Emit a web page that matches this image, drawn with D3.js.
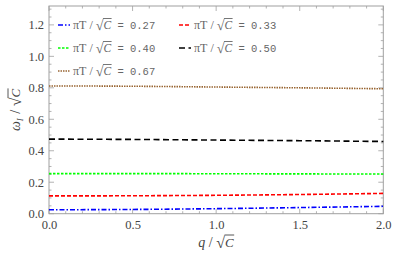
<!DOCTYPE html>
<html><head><meta charset="utf-8">
<script src="https://cdn.jsdelivr.net/npm/d3@7"></script>
<style>body{margin:0;background:#fff}svg{display:block}</style>
</head><body><svg id="c" width="398" height="264"></svg>
<script>
const qValues = [0, 0.5, 1.0, 1.5, 2.0];
const seriesLabels = ["0.27", "0.33", "0.40", "0.50", "0.67"];
const blueVals  = [0.025, 0.027, 0.032, 0.039, 0.047];
const redVals   = [0.113, 0.114, 0.117, 0.122, 0.129];
const greenVals = [0.255, 0.255, 0.254, 0.253, 0.252];
const blackVals = [0.474, 0.472, 0.468, 0.464, 0.459];
const brownVals = [0.812, 0.810, 0.805, 0.800, 0.794];
const xTicks = [0, 0.5, 1.0, 1.5, 2.0];
const yTicks = [0, 0.2, 0.4, 0.6, 0.8, 1.0, 1.2];

const series = [
  {vals: blueVals,  color: "#0000ff", dash: "5,2,1.5,2", label: seriesLabels[0]},
  {vals: redVals,   color: "#ff0000", dash: "4,2", label: seriesLabels[1]},
  {vals: greenVals, color: "#00ff00", dash: "2.5,1.5", label: seriesLabels[2]},
  {vals: blackVals, color: "#000000", dash: "6,3.5", label: seriesLabels[3]},
  {vals: brownVals, color: "#996633", dash: "1.5,1", label: seriesLabels[4]}
];

const svg = d3.select("#c");
const L = 49, R = 383.3, T = 6, B = 213.7;
const x = d3.scaleLinear().domain([0, 2]).range([L, R]);
const y = d3.scaleLinear().domain([0, 1.32]).range([B, T]);
const axisCol = "#a0a0a0";

// frame
svg.append("rect").attr("x", L).attr("y", T).attr("width", R - L).attr("height", B - T)
  .attr("fill", "none").attr("stroke", axisCol).attr("stroke-width", 1);

// minor & major ticks
const xMinor = d3.range(0, 2.0001, 0.1);
const yMinor = d3.range(0, 1.3001, 0.05);
const tg = svg.append("g").attr("stroke", axisCol).attr("stroke-width", 0.8);
xMinor.forEach(v => {
  const major = xTicks.some(t => Math.abs(t - v) < 1e-6);
  const len = major ? 5 : 2.5;
  tg.append("line").attr("x1", x(v)).attr("x2", x(v)).attr("y1", B).attr("y2", B - len);
  tg.append("line").attr("x1", x(v)).attr("x2", x(v)).attr("y1", T).attr("y2", T + len);
});
yMinor.forEach(v => {
  const major = yTicks.some(t => Math.abs(t - v) < 1e-6);
  const len = major ? 5 : 2.5;
  tg.append("line").attr("y1", y(v)).attr("y2", y(v)).attr("x1", L).attr("x2", L + len);
  tg.append("line").attr("y1", y(v)).attr("y2", y(v)).attr("x1", R).attr("x2", R - len);
});

// tick labels via d3 axes (lines hidden)
const xAxis = svg.append("g").attr("transform", `translate(0,${B})`)
  .call(d3.axisBottom(x).tickValues(xTicks).tickFormat(d3.format(".1f")).tickSize(0).tickPadding(6));
const yAxis = svg.append("g").attr("transform", `translate(${L},0)`)
  .call(d3.axisLeft(y).tickValues(yTicks).tickFormat(d3.format(".1f")).tickSize(0).tickPadding(5));
[xAxis, yAxis].forEach(a => {
  a.select(".domain").remove();
  a.selectAll("text").attr("font-family", "Liberation Serif, serif").attr("font-size", 12.5).attr("fill", "#444");
});

// lines
const line = d3.line().x((d, i) => x(qValues[i])).y(d => y(d)).curve(d3.curveMonotoneX);
series.forEach(s => {
  svg.append("path").datum(s.vals).attr("d", line).attr("fill", "none")
    .attr("stroke", s.color).attr("stroke-width", 1.6).attr("stroke-dasharray", s.dash);
});

// rich text helper
function rich(g, pieces, x0, y0, anchor) {
  const grp = g.append("g");
  let cx = 0;
  pieces.forEach(p => {
    const t = grp.append("text").attr("x", cx + (p.dx || 0)).attr("y", p.dy || 0)
      .attr("font-family", p.font).attr("font-size", p.size)
      .attr("font-style", p.italic ? "italic" : "normal").attr("fill", p.fill || "#444")
      .attr("xml:space", "preserve").text(p.t);
    const w = t.node().getComputedTextLength();
    if (p.overline) {
      grp.append("line").attr("x1", cx + (p.dx || 0) - 0.5).attr("x2", cx + (p.dx || 0) + w + 0.5)
        .attr("y1", p.overline).attr("y2", p.overline).attr("stroke", p.fill || "#444").attr("stroke-width", 0.9);
    }
    cx += w + (p.dx || 0) + (p.after || 0);
  });
  let sx = x0;
  if (anchor === "middle") sx = x0 - cx / 2;
  grp.attr("transform", `translate(${sx},${y0})`);
  return grp;
}

// legend
const serif = "Liberation Serif, serif", mono = "Liberation Mono, monospace";
const legPos = [[58, 25], [179, 25], [58, 48], [179, 48], [58, 71]];
series.forEach((s, i) => {
  const [lx, ly] = legPos[i];
  svg.append("line").attr("x1", lx).attr("x2", lx + 12).attr("y1", ly).attr("y2", ly)
    .attr("stroke", s.color).attr("stroke-width", 1.6).attr("stroke-dasharray", s.dash);
  rich(svg, [
    {t: "\u03c0T", font: serif, size: 12, italic: false, fill: "#666"},
    {t: " / ", font: serif, size: 12, fill: "#666"},
    {t: "\u221a", font: serif, size: 14, fill: "#666", dy: 1},
    {t: "C", font: serif, size: 11.5, italic: true, fill: "#666", overline: -10.5},
    {t: " = " + s.label, font: mono, size: 10.5, fill: "#666"}
  ], lx + 15, ly + 4, "start");
});

// x-axis label
rich(svg, [
  {t: "q", font: serif, size: 14, italic: true},
  {t: " / ", font: serif, size: 14},
  {t: "\u221a", font: serif, size: 16, dy: 1},
  {t: "C", font: serif, size: 13, italic: true, overline: -12}
], 216, 247, "middle");

// y-axis label
const yl = svg.append("g").attr("transform", "translate(20,110) rotate(-90)");
rich(yl, [
  {t: "\u03c9", font: serif, size: 14, italic: true},
  {t: "I", font: serif, size: 9, italic: true, dy: 3, after: 1},
  {t: " / ", font: serif, size: 14},
  {t: "\u221a", font: serif, size: 16, dy: 1},
  {t: "C", font: serif, size: 13, italic: true, overline: -12}
], 0, 0, "middle");
</script></body></html>
